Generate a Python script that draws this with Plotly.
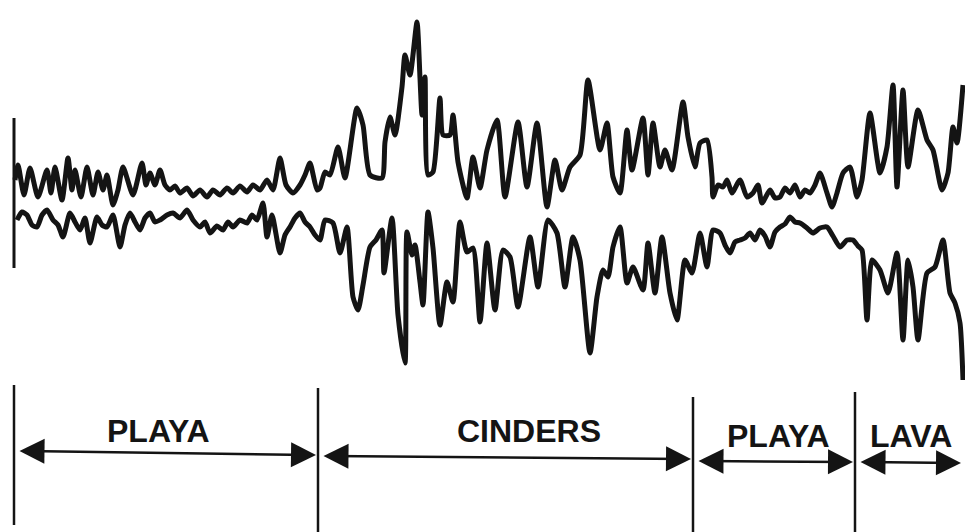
import plotly.graph_objects as go

upper_x = [15, 18, 24, 30, 38, 47, 51, 55, 62, 68, 72, 75, 81, 87, 93, 98, 103, 107, 113, 118, 123, 133, 142, 146, 150, 155, 160,
           165, 170, 175, 180, 187, 193, 200, 207, 213, 220, 227, 233, 240, 247, 253, 260, 267, 273, 280, 286, 293, 300, 305, 310, 317,
           320, 325, 330, 338, 345, 357, 363, 370, 382, 385, 390, 395, 402, 405, 410, 417, 420, 422, 425, 428, 433, 440, 443, 450, 453,
           458, 467, 473, 480, 487, 497, 505, 518, 527, 537, 547, 555, 562, 570, 580, 588, 600, 607, 613, 620, 627, 632, 643, 648, 653,
           660, 665, 672, 683, 688, 695, 700, 707, 712, 713, 718, 723, 727, 732, 740, 747, 753, 758, 762, 770, 775, 780, 785, 790, 795,
           800, 805, 810, 815, 820, 827, 832, 837, 843, 850, 857, 862, 870, 880, 887, 893, 897, 903, 908, 918, 927, 933, 942, 948, 953,
           957, 963]
upper_y = [180, 165, 195, 168, 197, 170, 193, 167, 200, 158, 190, 170, 197, 167, 195, 172, 190, 175, 205, 190, 167, 195, 163, 185, 173, 185, 170,
           185, 190, 186, 193, 188, 196, 190, 197, 190, 195, 188, 193, 186, 192, 185, 190, 180, 190, 158, 185, 193, 185, 175, 163, 190,
           188, 172, 175, 147, 178, 108, 125, 175, 178, 142, 117, 135, 87, 55, 75, 22, 78, 115, 77, 175, 172, 98, 135, 135, 115,
           162, 198, 157, 188, 150, 120, 197, 122, 187, 123, 207, 160, 190, 167, 155, 80, 150, 123, 177, 193, 130, 170, 118, 175, 123,
           167, 150, 170, 102, 137, 167, 143, 140, 177, 197, 185, 187, 180, 193, 180, 197, 193, 185, 203, 190, 198, 197, 188, 193, 185,
           197, 190, 193, 185, 173, 193, 207, 193, 173, 167, 197, 180, 113, 173, 147, 85, 187, 90, 167, 110, 140, 150, 190, 173, 127,
           143, 85]

# Lower trace
lower_x = [17, 22, 27, 32, 37, 42, 47, 53, 58, 63, 70, 75, 80, 85, 90, 97, 102, 107, 113, 120, 125, 130, 135, 140, 145, 150, 155, 160,
           167, 173, 180, 187, 193, 200, 205, 210, 217, 223, 228, 233, 240, 247, 252, 257, 263, 267, 272, 280, 285, 290, 295, 300, 305,
           310, 315, 320, 325, 333, 340, 347, 353, 358, 363, 370, 376, 382, 384, 392, 398, 405, 407, 412, 415, 420, 423, 428, 433, 440,
           447, 453, 460, 467, 473, 480, 487, 495, 503, 510, 518, 530, 538, 548, 557, 565, 573, 580, 590, 597, 603, 608, 613, 620, 627,
           633, 643, 648, 655, 662, 670, 677, 685, 692, 700, 707, 713, 720, 725, 730, 735, 740, 745, 750, 755, 760, 765, 770, 775, 780,
           785, 790, 795, 800, 807, 813, 820, 827, 833, 840, 847, 853, 858, 862, 867, 872, 880, 888, 897, 903, 908, 913, 918, 927, 935,
           943, 950, 955, 960, 963]
lower_y = [220, 212, 215, 225, 227, 215, 210, 220, 225, 237, 213, 222, 230, 218, 243, 217, 225, 227, 215, 247, 225, 213, 222, 230, 218, 213, 222, 220,
           215, 213, 218, 210, 220, 227, 222, 233, 226, 230, 222, 227, 220, 223, 215, 220, 203, 237, 215, 253, 235, 227, 218, 213, 222,
           227, 235, 240, 220, 223, 253, 227, 297, 310, 285, 247, 240, 230, 273, 218, 315, 363, 232, 255, 245, 282, 305, 212, 248, 325,
           282, 302, 222, 252, 248, 322, 243, 310, 250, 257, 307, 237, 287, 220, 233, 287, 237, 260, 353, 297, 270, 277, 247, 227, 283,
           267, 290, 243, 293, 237, 293, 320, 260, 273, 233, 267, 230, 233, 245, 253, 242, 240, 238, 233, 240, 230, 236, 247, 232, 227,
           224, 217, 222, 223, 228, 233, 228, 227, 236, 247, 240, 240, 246, 250, 320, 260, 270, 293, 253, 340, 260, 287, 340, 273, 267,
           240, 293, 303, 323, 380]

# Zone boundaries and labels
boundaries = [14, 318, 693, 855]
zone_labels = ["PLAYA", "CINDERS", "PLAYA", "LAVA"]
zone_ends = [318, 693, 855, 963]
label_x = [158, 529, 778, 911]

ink = "#141414"
fig = go.Figure()
for xs, ys in ((upper_x, upper_y), (lower_x, lower_y)):
    fig.add_trace(go.Scatter(x=xs, y=ys, mode="lines",
                             line=dict(color=ink, width=5, shape="spline", smoothing=0.6),
                             hoverinfo="skip", showlegend=False))

shapes = []
# left reference line of the traces
shapes.append(dict(type="line", x0=14, x1=14, y0=118, y1=268, xref="x", yref="y",
                   line=dict(color=ink, width=3)))
bottom_tops = [385, 388, 397, 392]
bottom_ends = [525, 532, 532, 532]
for b, t, e in zip(boundaries, bottom_tops, bottom_ends):
    shapes.append(dict(type="line", x0=b, x1=b, y0=t, y1=e, xref="x", yref="y",
                       line=dict(color=ink, width=2.5)))

annotations = []
arrow_y0 = [451, 456, 461, 462]
arrow_y1 = [455, 459, 462, 463]
for i, (s, e) in enumerate(zip(boundaries, zone_ends)):
    annotations.append(dict(x=e - 2, y=arrow_y1[i], ax=s + 4, ay=arrow_y0[i],
                            xref="x", yref="y", axref="x", ayref="y",
                            text="", showarrow=True, arrowside="end+start",
                            arrowhead=2, startarrowhead=2, arrowsize=2.0, startarrowsize=2.0,
                            arrowwidth=2.5, arrowcolor=ink))
label_y = [431, 431, 436, 436]
for lx, ly, txt in zip(label_x, label_y, zone_labels):
    annotations.append(dict(x=lx, y=ly, xref="x", yref="y", text="<b>%s</b>" % txt,
                            showarrow=False, font=dict(family="Liberation Sans", size=32, color=ink)))

fig.update_layout(width=965, height=532, margin=dict(l=0, r=0, t=0, b=0),
                  paper_bgcolor="white", plot_bgcolor="white",
                  xaxis=dict(range=[0, 965], visible=False, fixedrange=True),
                  yaxis=dict(range=[532, 0], visible=False, fixedrange=True),
                  shapes=shapes, annotations=annotations)
fig.write_html("out.html", config={"displayModeBar": False},
               post_script="document.body.style.margin='0px';document.body.style.overflow='hidden';")
